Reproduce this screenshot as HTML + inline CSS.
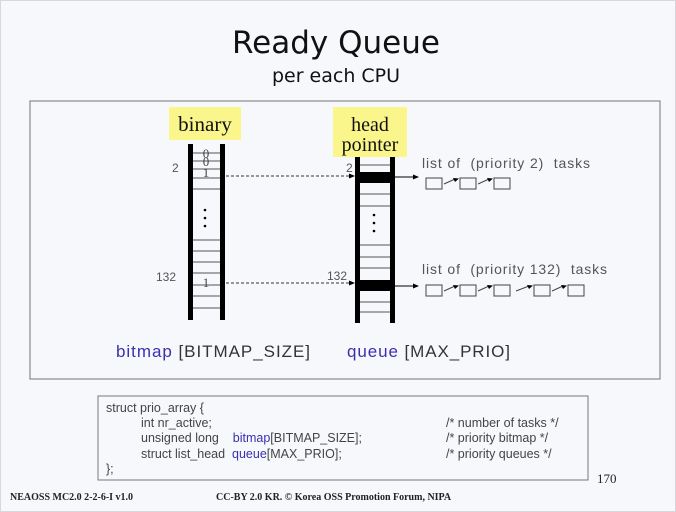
<!DOCTYPE html>
<html><head><style>
html,body{margin:0;padding:0;background:#f7f8fc;}
svg{display:block;}
svg text{white-space:pre;}
</style></head><body>
<svg width="676" height="512" viewBox="0 0 676 512" xmlns="http://www.w3.org/2000/svg" font-family="Liberation Sans, DejaVu Sans, sans-serif">
<rect x="0" y="0" width="676" height="512" fill="#f7f8fc"/>
<rect x="0.5" y="0.5" width="675" height="511" fill="none" stroke="#d8d8dc"/>
<text x="336" y="53" font-size="31" text-anchor="middle" fill="#111" font-family="DejaVu Sans, sans-serif">Ready Queue</text>
<text x="336" y="82" font-size="19" text-anchor="middle" fill="#111" font-family="DejaVu Sans, sans-serif">per each CPU</text>
<rect x="30" y="101" width="630" height="278" fill="#f7f8fc" stroke="#8a8a8a" stroke-width="1.2"/>

<rect x="169" y="107" width="72" height="33" fill="#fbf68c"/>
<text x="205" y="131" font-size="21" text-anchor="middle" font-family="Liberation Serif, serif" fill="#111">binary</text>
<rect x="333" y="107" width="74" height="50" fill="#fbf68c"/>
<text x="370" y="131" font-size="20" text-anchor="middle" font-family="Liberation Serif, serif" fill="#111">head</text>
<text x="370" y="151" font-size="20" text-anchor="middle" font-family="Liberation Serif, serif" fill="#111">pointer</text>

<g stroke="#555" stroke-width="1">
<line x1="193" x2="220" y1="153" y2="153"/><line x1="193" x2="220" y1="161" y2="161"/>
<line x1="193" x2="220" y1="169" y2="169"/><line x1="193" x2="220" y1="178" y2="178"/>
<line x1="193" x2="220" y1="189" y2="189"/><line x1="193" x2="220" y1="240" y2="240"/>
<line x1="193" x2="220" y1="251" y2="251"/><line x1="193" x2="220" y1="262" y2="262"/>
<line x1="193" x2="220" y1="273" y2="273"/><line x1="193" x2="220" y1="285" y2="285"/>
<line x1="193" x2="220" y1="296" y2="296"/><line x1="193" x2="220" y1="308" y2="308"/>
</g>
<rect x="188" y="144" width="5" height="176" fill="#000"/>
<rect x="220" y="144" width="5" height="176" fill="#000"/>
<g font-family="Liberation Serif, serif" font-size="13" fill="#444" text-anchor="middle">
<text x="206" y="158">0</text><text x="206" y="166">0</text><text x="206" y="177">1</text><text x="206" y="287">1</text>
</g>
<circle cx="205" cy="210" r="1.3" fill="#000"/><circle cx="205" cy="218" r="1.3" fill="#000"/><circle cx="205" cy="226" r="1.3" fill="#000"/>
<text x="172" y="172" font-size="12" fill="#555">2</text>
<text x="156" y="281" font-size="12" fill="#555">132</text>

<g stroke="#555" stroke-width="1">
<line x1="360" x2="390" y1="165" y2="165"/><line x1="360" x2="390" y1="194" y2="194"/>
<line x1="360" x2="390" y1="206" y2="206"/><line x1="360" x2="390" y1="245" y2="245"/>
<line x1="360" x2="390" y1="257" y2="257"/><line x1="360" x2="390" y1="268" y2="268"/>
<line x1="360" x2="390" y1="302" y2="302"/><line x1="360" x2="390" y1="312" y2="312"/>
</g>
<rect x="360" y="172" width="30" height="11" fill="#000"/>
<rect x="360" y="280" width="30" height="11" fill="#000"/>
<rect x="355" y="157" width="5" height="166" fill="#000"/>
<rect x="390" y="157" width="5" height="166" fill="#000"/>
<circle cx="374" cy="215" r="1.3" fill="#000"/><circle cx="374" cy="223" r="1.3" fill="#000"/><circle cx="374" cy="231" r="1.3" fill="#000"/>
<text x="346" y="172" font-size="12" fill="#555">2</text>
<text x="327" y="280" font-size="12" fill="#555">132</text>

<g stroke="#333" stroke-width="1" stroke-dasharray="3,2">
<line x1="226" y1="176" x2="350" y2="176"/>
<line x1="226" y1="283" x2="350" y2="283"/>
</g>
<polygon points="355,176 349,173.5 349,178.5" fill="#000"/>
<polygon points="355,283 349,280.5 349,285.5" fill="#000"/>

<g stroke="#000" stroke-width="1">
<line x1="395" y1="177" x2="414" y2="177"/>
<line x1="395" y1="286" x2="414" y2="286"/>
</g>
<polygon points="419,177 413,174.5 413,179.5" fill="#000"/>
<polygon points="419,286 413,283.5 413,288.5" fill="#000"/>

<text x="422" y="168" font-size="14" fill="#555" textLength="168" lengthAdjust="spacing">list of  (priority 2)  tasks</text>
<text x="422" y="274" font-size="14" fill="#555" textLength="185" lengthAdjust="spacing">list of  (priority 132)  tasks</text>

<g fill="none" stroke="#444" stroke-width="1">
<rect x="426" y="178" width="16" height="11"/><rect x="460" y="178" width="16" height="11"/><rect x="494" y="178" width="16" height="11"/>
<line x1="444" y1="184" x2="455" y2="179"/><line x1="478" y1="184" x2="489" y2="179"/>
<rect x="426" y="285" width="16" height="11"/><rect x="460" y="285" width="16" height="11"/><rect x="494" y="285" width="16" height="11"/>
<rect x="534" y="285" width="16" height="11"/><rect x="568" y="285" width="16" height="11"/>
<line x1="444" y1="291" x2="455" y2="286"/><line x1="478" y1="291" x2="489" y2="286"/>
<line x1="516" y1="291" x2="529" y2="286"/><line x1="552" y1="291" x2="563" y2="286"/>
</g>
<g fill="#000">
<polygon points="459,178.5 453,178 455,182"/><polygon points="493,178.5 487,178 489,182"/>
<polygon points="459,285.5 453,285 455,289"/><polygon points="493,285.5 487,285 489,289"/>
<polygon points="533,285.5 527,285 529,289"/><polygon points="567,285.5 561,285 563,289"/>
</g>

<text x="116" y="357" font-size="17" fill="#333" textLength="194" lengthAdjust="spacing"><tspan fill="#3a2fb0">bitmap</tspan> [BITMAP_SIZE]</text>
<text x="347" y="357" font-size="17" fill="#333" textLength="163" lengthAdjust="spacing"><tspan fill="#3a2fb0">queue</tspan> [MAX_PRIO]</text>

<rect x="98" y="396" width="490" height="84" fill="#f7f8fc" stroke="#777" stroke-width="1"/>
<g font-size="12.5" fill="#444">
<text x="106" y="412">struct prio_array {</text>
<text x="141" y="427">int nr_active;</text>
<text x="141" y="442">unsigned long    <tspan fill="#3a2fb0">bitmap</tspan>[BITMAP_SIZE];</text>
<text x="141" y="458">struct list_head  <tspan fill="#3a2fb0">queue</tspan>[MAX_PRIO];</text>
<text x="106" y="473">};</text>
<text x="446" y="427">/* number of tasks */</text>
<text x="446" y="442">/* priority bitmap */</text>
<text x="446" y="458">/* priority queues */</text>
</g>
<text x="597" y="483" font-size="13" font-family="Liberation Serif, serif" fill="#222">170</text>
<text x="10" y="500" font-size="10" font-weight="bold" font-family="Liberation Serif, serif" fill="#222">NEAOSS MC2.0 2-2-6-I v1.0</text>
<text x="216" y="500" font-size="10" font-weight="bold" font-family="Liberation Serif, serif" fill="#222">CC-BY 2.0 KR. © Korea OSS Promotion Forum, NIPA</text>
</svg>
</body></html>
